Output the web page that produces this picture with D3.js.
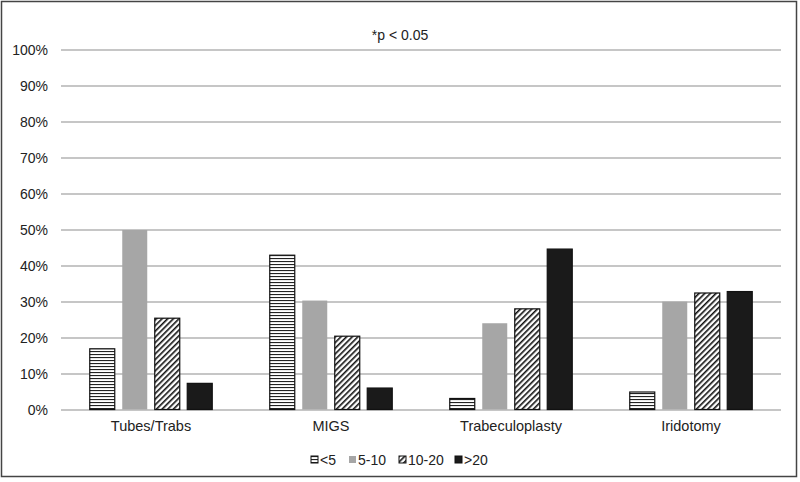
<!DOCTYPE html>
<html><head><meta charset="utf-8">
<script src="https://cdn.jsdelivr.net/npm/d3@7"></script>
<style>body{margin:0;background:#fff}svg{display:block;font-family:"Liberation Sans",Arial,sans-serif}</style>
</head><body><svg id="c" width="800" height="482"></svg>
<script>
const categories = ["Tubes/Trabs","MIGS","Trabeculoplasty","Iridotomy"];
const seriesNames = ["<5","5-10","10-20",">20"];
const lt5 = [17, 43, 3.2, 5];
const s5to10 = [50, 30.4, 24.1, 30.1];
const s10to20 = [25.5, 20.5, 28.1, 32.5];
const gt20 = [7.4, 6.1, 44.7, 32.9];
const yTicks = [0,10,20,30,40,50,60,70,80,90,100];
const note = "*p < 0.05";

const seriesValues = [lt5, s5to10, s10to20, gt20];
const svg = d3.select("#c");
const defs = svg.append("defs");
const ph = defs.append("pattern").attr("id","ph").attr("patternUnits","userSpaceOnUse").attr("width",6).attr("height",3);
ph.append("rect").attr("width",6).attr("height",3).attr("fill","#fff");
ph.append("rect").attr("y",0).attr("width",6).attr("height",1.1).attr("fill","#222");
const pd = defs.append("pattern").attr("id","pd").attr("patternUnits","userSpaceOnUse").attr("width",4).attr("height",4).attr("patternTransform","rotate(45)");
pd.append("rect").attr("width",4).attr("height",4).attr("fill","#fff");
pd.append("rect").attr("x",0).attr("width",1.6).attr("height",4).attr("fill","#111");
const fills = ["url(#ph)","#a6a6a6","url(#pd)","#1a1a1a"];
const strokes = ["#111","none","#111","#111"];

svg.append("rect").attr("x",1.5).attr("y",1.5).attr("width",795).attr("height",475).attr("fill","none").attr("stroke","#444").attr("stroke-width",1.5);

const L=61,R=781,T=50,B=410;
const y = d3.scaleLinear().domain([0,100]).range([B,T]);
const x0 = d3.scaleBand().domain(categories).range([L,R]);
const x1 = d3.scaleBand().domain(seriesNames).range([28.25,151.75]).paddingInner(0.2);

const grid = svg.append("g");
grid.selectAll("line").data(yTicks).join("line")
  .attr("x1",L).attr("x2",R).attr("y1",d=>y(d)).attr("y2",d=>y(d))
  .attr("stroke","#b3b3b3").attr("stroke-width",1.5);

const yAxis = svg.append("g").attr("transform",`translate(${L},0)`)
  .call(d3.axisLeft(y).tickValues(yTicks).tickFormat(d=>d+"%").tickSize(0).tickPadding(13));
yAxis.select(".domain").remove();
yAxis.selectAll("text").attr("font-size",14).attr("fill","#222").attr("font-family","Liberation Sans, Arial, sans-serif");

const xAxis = svg.append("g").attr("transform",`translate(0,${B})`)
  .call(d3.axisBottom(x0).tickSize(0).tickPadding(11));
xAxis.select(".domain").remove();
xAxis.selectAll("text").attr("font-size",14.5).attr("fill","#222").attr("font-family","Liberation Sans, Arial, sans-serif");

const groups = svg.append("g").selectAll("g").data(categories).join("g")
  .attr("transform",d=>`translate(${x0(d)},0)`);
groups.selectAll("rect").data((c,ci)=>seriesNames.map((s,si)=>({s,si,v:seriesValues[si][ci]}))).join("rect")
  .attr("x",d=>x1(d.s)+0.5).attr("width",x1.bandwidth()-1)
  .attr("y",d=>y(d.v)).attr("height",d=>B-y(d.v)-0.5)
  .attr("fill",d=>fills[d.si]).attr("stroke",d=>strokes[d.si]).attr("stroke-width",1.2);

svg.append("text").attr("x",400).attr("y",40).attr("text-anchor","middle").attr("font-size",14).attr("fill","#222").text(note);

const legendX = [311,349,399,455];
const lg = svg.append("g");
seriesNames.forEach((s,i)=>{
  lg.append("rect").attr("x",legendX[i]).attr("y",456).attr("width",7).attr("height",7)
    .attr("fill",fills[i]).attr("stroke",strokes[i]).attr("stroke-width",1);
  lg.append("text").attr("x",legendX[i]+9).attr("y",465).attr("font-size",14).attr("fill","#222").text(s);
});
</script></body></html>
